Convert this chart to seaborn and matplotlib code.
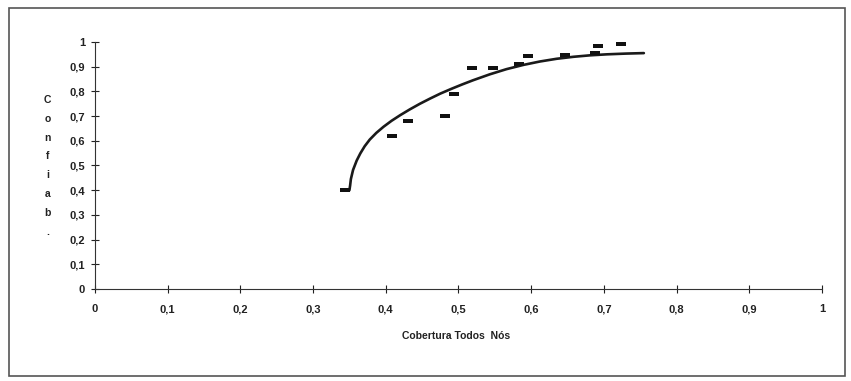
import matplotlib
matplotlib.use("Agg")
import matplotlib.pyplot as plt
import matplotlib.patches as patches
import seaborn as sns
import pandas as pd

# Observed points (coverage vs reliability)
cobertura = [0.344, 0.408, 0.431, 0.482, 0.494, 0.518, 0.548, 0.583,
             0.596, 0.647, 0.688, 0.692, 0.724]
confiab = [0.40, 0.62, 0.68, 0.70, 0.79, 0.895, 0.893, 0.91,
           0.945, 0.948, 0.955, 0.985, 0.99]

# Trend curve
curva_x = [0.346, 0.350, 0.351, 0.352, 0.355, 0.360, 0.365, 0.371, 0.378,
           0.387, 0.397, 0.408, 0.420, 0.433, 0.447, 0.461, 0.475, 0.490,
           0.505, 0.520, 0.543, 0.566, 0.589, 0.612, 0.635, 0.658, 0.681,
           0.704, 0.730, 0.755]
curva_y = [0.400, 0.400, 0.420, 0.445, 0.482, 0.520, 0.549, 0.578, 0.605,
           0.632, 0.657, 0.681, 0.704, 0.727, 0.750, 0.771, 0.791, 0.810,
           0.828, 0.845, 0.869, 0.890, 0.907, 0.921, 0.932, 0.940, 0.946,
           0.950, 0.953, 0.955]

ticks = [0, 0.1, 0.2, 0.3, 0.4, 0.5, 0.6, 0.7, 0.8, 0.9, 1]
tick_labels = ["0", "0,1", "0,2", "0,3", "0,4", "0,5", "0,6", "0,7", "0,8", "0,9", "1"]

pontos = pd.DataFrame({"x": cobertura, "y": confiab})
curva = pd.DataFrame({"x": curva_x, "y": curva_y})

sns.set_style("white")
plt.rcParams["font.family"] = ["Liberation Sans", "DejaVu Sans"]

fig = plt.figure(figsize=(8.51, 3.81), dpi=100)
ax = fig.add_axes([0.1116, 0.2415, 0.8543, 0.6483])

# outer chart frame
fig.patches.append(patches.Rectangle((0.011, 0.012), 0.982, 0.968,
                                     transform=fig.transFigure, fill=False,
                                     edgecolor="#555555", linewidth=1.2))

rect = [(-1, -0.5), (1, -0.5), (1, 0.5), (-1, 0.5), (-1, -0.5)]
sns.scatterplot(data=pontos, x="x", y="y", marker=rect, s=42,
                color="#111111", edgecolor="#111111", linewidth=0, ax=ax, zorder=3)
sns.lineplot(data=curva, x="x", y="y", sort=False, estimator=None,
             color="#1a1a1a", linewidth=1.9, ax=ax, zorder=2)

ax.set_xlim(0, 1)
ax.set_ylim(0, 1)
ax.set_xticks(ticks, tick_labels)
ax.set_yticks(ticks, tick_labels)
ax.tick_params(axis="both", direction="inout", length=6, width=0.8,
               labelsize=8, colors="#222222", bottom=True, left=True)
ax.tick_params(axis="x", pad=8)
ax.tick_params(axis="y", pad=4)
for lab in ax.get_xticklabels() + ax.get_yticklabels():
    lab.set_fontweight("bold")

sns.despine(ax=ax)
ax.spines["left"].set_color("#333333")
ax.spines["bottom"].set_color("#333333")
ax.set_xlabel("")
ax.set_ylabel("")

fig.text(0.536, 0.118, "Cobertura Todos  Nós", ha="center", va="center",
         fontsize=7.5, fontweight="bold", color="#222222")
fig.text(0.056, 0.565, "C\no\nn\nf\ni\na\nb\n.", ha="center", va="center",
         fontsize=7.5, fontweight="bold", color="#222222", linespacing=2.1)

fig.savefig("out.png", dpi=100)
